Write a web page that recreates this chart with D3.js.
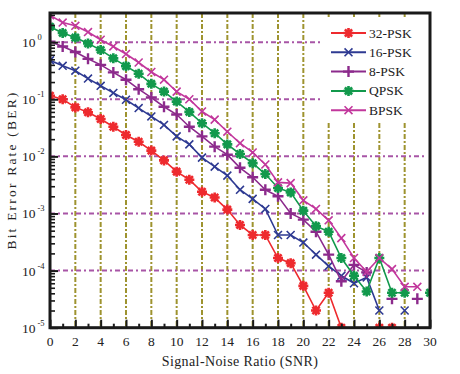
<!DOCTYPE html>
<html>
<head>
<meta charset="utf-8">
<script src="https://cdn.jsdelivr.net/npm/d3@7"></script>
<style>
  body { margin: 0; background: #fff; }
  svg text { font-family: "Liberation Serif", "Times New Roman", serif; fill: #222; }
</style>
</head>
<body>
<div id="chart"></div>
<script>
// BER vs SNR for five modulations (null = no point plotted)
const snr = d3.range(0, 31);

const ber32psk = [0.115, 0.1, 0.072, 0.059, 0.045, 0.033, 0.0237, 0.018, 0.0126, 0.0085,
  0.0054, 0.0039, 0.0024, 0.0019, 0.00117, 6.3e-4, 4.2e-4, 4.2e-4, 1.66e-4, 1.35e-4,
  5.4e-5, 2.0e-5, 4.1e-5, 1e-5, null, null, 1e-5, 1e-5, null, null, null];
const ber16psk = [0.48, 0.385, 0.316, 0.23, 0.172, 0.129, 0.098, 0.07, 0.05, 0.0355,
  0.0224, 0.0162, 0.0095, 0.0066, 0.0046, 0.0026, 0.0018, 0.0012, 4.2e-4, 4.2e-4,
  3.1e-4, 1.9e-4, 1.2e-4, 8.1e-5, 6.0e-5, 7.6e-5, 2.0e-5, null, 2.0e-5, null, null];
const ber8psk = [1.02, 0.84, 0.67, 0.51, 0.40, 0.295, 0.22, 0.15, 0.107, 0.074,
  0.054, 0.033, 0.0224, 0.0148, 0.0107, 0.0063, 0.0043, 0.0026, 0.002, 0.001,
  7.8e-4, 4.8e-4, 1.9e-4, 6.5e-5, 1.26e-4, 9.3e-5, null, 3.2e-5, null, 3.2e-5, null];
const berQpsk = [1.86, 1.45, 1.2, 0.95, 0.73, 0.52, 0.38, 0.28, 0.186, 0.136,
  0.091, 0.06, 0.038, 0.0254, 0.0162, 0.011, 0.0076, 0.0049, 0.0028, 0.00234,
  0.00112, 6.0e-4, 4.8e-4, 1.66e-4, 8.1e-5, 4.3e-5, 1.66e-4, 4.1e-5, 4.1e-5, null, 4.1e-5];
const berBpsk = [2.95, 2.2, 1.93, 1.5, 1.1, 0.84, 0.62, 0.44, 0.30, 0.22,
  0.136, 0.10, 0.061, 0.044, 0.027, 0.017, 0.0117, 0.0072, 0.0035, 0.0034,
  0.0017, 0.0012, 7.6e-4, 3.7e-4, 1.66e-4, 9.5e-5, 1.66e-4, 1.06e-4, 5.2e-5, 5.2e-5, null];

const seriesNames = ['32-PSK', '16-PSK', '8-PSK', 'QPSK', 'BPSK'];
const seriesValues = [ber32psk, ber16psk, ber8psk, berQpsk, berBpsk];
const seriesColors = ['#ee2a2e', '#2e3a92', '#8c2a8c', '#12994c', '#c2379c'];
const seriesMarkers = ['star', 'x', 'plus', 'star', 'x'];

const xTicks = d3.range(0, 31, 2);
const xGrid = d3.range(2, 29, 2);
const yDecades = [-5, -4, -3, -2, -1, 0];
const yGridDecades = [-4, -3, -2, -1, 0];

// layout
const W = 460, H = 374;
const mLeft = 50, mRight = 430, mTop = 13, mBottom = 327.7;

const svg = d3.select('#chart').append('svg')
    .attr('width', W)
    .attr('height', H);

const x = d3.scaleLinear().domain([0, 30]).range([mLeft, mRight]);
const y = d3.scaleLog().domain([1e-5, Math.pow(10, 0.51)]).range([mBottom, mTop]);

svg.append('clipPath').attr('id', 'plot-clip')
  .append('rect')
    .attr('x', mLeft).attr('y', mTop)
    .attr('width', mRight - mLeft).attr('height', mBottom - mTop);

// vertical grid (olive dash-dot)
svg.append('g').selectAll('line')
  .data(xGrid)
  .join('line')
    .attr('x1', d => x(d)).attr('x2', d => x(d))
    .attr('y1', mTop).attr('y2', mBottom)
    .attr('stroke', '#9e932f')
    .attr('stroke-width', 2)
    .attr('stroke-dasharray', '5,2,2,2');

// horizontal grid (purple dash-dot)
svg.append('g').selectAll('line')
  .data(yGridDecades)
  .join('line')
    .attr('x1', mLeft).attr('x2', mRight - 5)
    .attr('y1', d => y(Math.pow(10, d))).attr('y2', d => y(Math.pow(10, d)))
    .attr('stroke', '#a855a6')
    .attr('stroke-width', 2)
    .attr('stroke-dasharray', '5,3,2,3');

// marker shapes
function markerPath(type, r) {
  const a = r * 0.72;
  if (type === 'x') return `M${-a},${-a}L${a},${a}M${-a},${a}L${a},${-a}`;
  if (type === 'plus') return `M${-r},0L${r},0M0,${-r}L0,${r}`;
  return `M${-r},0L${r},0M0,${-r}L0,${r}M${-a},${-a}L${a},${a}M${-a},${a}L${a},${-a}`;
}
const markerStyle = {
  star: { r: 5, w: 2.6 },
  x: { r: 5.5, w: 1.6 },
  plus: { r: 5.5, w: 2.4 }
};

const plot = svg.append('g').attr('clip-path', 'url(#plot-clip)');

const line = d3.line()
    .defined(d => d.v != null)
    .x(d => x(d.s))
    .y(d => y(d.v));

seriesNames.forEach((name, i) => {
  const pts = snr.map((s, j) => ({ s: s, v: seriesValues[i][j] }));
  const g = plot.append('g');
  g.append('path')
      .datum(pts)
      .attr('d', line)
      .attr('fill', 'none')
      .attr('stroke', seriesColors[i])
      .attr('stroke-width', 1.6);
  const ms = markerStyle[seriesMarkers[i]];
  g.selectAll('path.mk')
    .data(pts.filter(d => d.v != null))
    .join('path')
      .attr('class', 'mk')
      .attr('transform', d => `translate(${x(d.s)},${y(d.v)})`)
      .attr('d', markerPath(seriesMarkers[i], ms.r))
      .attr('fill', 'none')
      .attr('stroke', seriesColors[i])
      .attr('stroke-width', ms.w);
});

// legend (white box over the grid)
const lg = svg.append('g');
lg.append('rect')
    .attr('x', 323).attr('y', 17)
    .attr('width', mRight - 2 - 323).attr('height', 105)
    .attr('fill', '#fff');
seriesNames.forEach((name, i) => {
  const ly = 33 + i * 19.3;
  lg.append('line')
      .attr('x1', 331).attr('x2', 366)
      .attr('y1', ly).attr('y2', ly)
      .attr('stroke', seriesColors[i])
      .attr('stroke-width', 2);
  const ms = markerStyle[seriesMarkers[i]];
  lg.append('path')
      .attr('transform', `translate(348.5,${ly})`)
      .attr('d', markerPath(seriesMarkers[i], ms.r))
      .attr('fill', 'none')
      .attr('stroke', seriesColors[i])
      .attr('stroke-width', ms.w);
  lg.append('text')
      .attr('x', 369).attr('y', ly + 4.5)
      .attr('font-size', 13.5)
      .text(name);
});

// axes: ticks point inward
const minorY = [];
yDecades.slice(0, -1).forEach(e => {
  for (let k = 2; k <= 9; k++) minorY.push(k * Math.pow(10, e));
});
minorY.push(2, 3);

svg.append('g')
    .attr('transform', `translate(${mLeft},0)`)
    .call(d3.axisLeft(y).tickValues(minorY.filter(v => v <= y.domain()[1])).tickSize(-5).tickFormat(''))
    .call(g => g.select('.domain').remove())
    .call(g => g.selectAll('line').attr('stroke', '#1a1a1a').attr('stroke-width', 1.6));

svg.append('g')
    .attr('transform', `translate(${mLeft},0)`)
    .call(d3.axisLeft(y).tickValues(yDecades.map(e => Math.pow(10, e))).tickSize(-8).tickFormat(''))
    .call(g => g.select('.domain').remove())
    .call(g => g.selectAll('line').attr('stroke', '#1a1a1a').attr('stroke-width', 2));

svg.append('g')
    .attr('transform', `translate(0,${mBottom})`)
    .call(d3.axisBottom(x).tickValues(d3.range(1, 30, 2)).tickSize(-4).tickFormat(''))
    .call(g => g.select('.domain').remove())
    .call(g => g.selectAll('line').attr('stroke', '#1a1a1a').attr('stroke-width', 2));

svg.append('g')
    .attr('transform', `translate(0,${mBottom})`)
    .call(d3.axisBottom(x).tickValues(xTicks).tickSize(-8).tickFormat(''))
    .call(g => g.select('.domain').remove())
    .call(g => g.selectAll('line').attr('stroke', '#1a1a1a').attr('stroke-width', 2));

// frame
svg.append('rect')
    .attr('x', mLeft).attr('y', mTop)
    .attr('width', mRight - mLeft).attr('height', mBottom - mTop)
    .attr('fill', 'none')
    .attr('stroke', '#1a1a1a')
    .attr('stroke-width', 3);

// x tick labels
svg.append('g').selectAll('text')
  .data(xTicks)
  .join('text')
    .attr('x', d => x(d))
    .attr('y', 346)
    .attr('text-anchor', 'middle')
    .attr('font-size', 13.5)
    .text(d => d);

// y tick labels: 10 with superscript exponent
const yl = svg.append('g').selectAll('text')
  .data(yDecades)
  .join('text')
    .attr('x', 22)
    .attr('y', d => y(Math.pow(10, d)) + 5)
    .attr('font-size', 13.5);
yl.append('tspan').text('10');
yl.append('tspan')
    .attr('dx', 2)
    .attr('dy', -7)
    .attr('font-size', 8.5)
    .text(d => d === 0 ? '0' : String(d));

// axis titles
svg.append('text')
    .attr('x', 240)
    .attr('y', 366)
    .attr('text-anchor', 'middle')
    .attr('font-size', 14)
    .attr('letter-spacing', 0.4)
    .text('Signal-Noise Ratio (SNR)');

svg.append('text')
    .attr('transform', 'translate(16,170) rotate(-90)')
    .attr('text-anchor', 'middle')
    .attr('font-size', 13.5)
    .attr('letter-spacing', 2.2)
    .text('Bit Error Rate (BER)');
</script>
</body>
</html>
